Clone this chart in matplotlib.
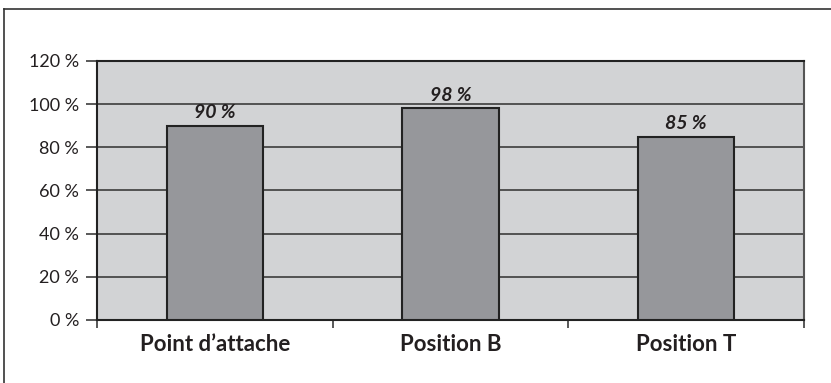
import matplotlib
matplotlib.use("Agg")
import matplotlib.pyplot as plt
from matplotlib.lines import Line2D
import numpy as np

categories = ["Point d\u2019attache", "Position B", "Position T"]
values = [90, 98, 85]
yticks = [0, 20, 40, 60, 80, 100, 120]
ytick_labels = ["0 %", "20 %", "40 %", "60 %", "80 %", "100 %", "120 %"]

plt.rcParams['font.family'] = ['Lato', 'DejaVu Sans']

W, H = 831, 383
fig = plt.figure(figsize=(W/100, H/100), dpi=100)
ax = fig.add_axes([97/W, 1-320/H, (804-97)/W, (320-61)/H])
ax.set_facecolor('#d2d3d5')

x = np.arange(len(categories))
ax.set_axisbelow(True)
ax.yaxis.grid(True, color='#3c3c3c', linewidth=1.2)
ax.bar(x, values, width=0.41, color='#96979b', edgecolor='#222222', linewidth=1.5, zorder=3)
for xi, v in zip(x, values):
    ax.text(xi, v + 2, f"{v} %", ha='center', va='bottom', fontsize=14,
            fontweight='bold', fontstyle='italic', color='#231f20')

ax.set_xlim(-0.5, len(categories) - 0.5)
ax.set_ylim(0, 120)
ax.set_yticks(yticks)
ax.set_yticklabels(ytick_labels, fontsize=13, color='#231f20')
ax.tick_params(axis='y', length=8, width=1.2, color='#3c3c3c', pad=5)

ax.set_xticks(x)
ax.set_xticklabels(categories, fontsize=16, fontweight='bold', color='#231f20')
ax.tick_params(axis='x', length=0, pad=10)
ax.set_xticks(np.arange(len(categories) + 1) - 0.5, minor=True)
ax.tick_params(axis='x', which='minor', length=6, width=1.2, color='#3c3c3c')

for side in ['top', 'left', 'bottom']:
    ax.spines[side].set_color('#222222')
    ax.spines[side].set_linewidth(1.5)
ax.spines['right'].set_color('#555555')
ax.spines['right'].set_linewidth(1.5)

# outer frame
fig.add_artist(Line2D([4/W, 4/W], [0, 1-9/H], color='#333333', linewidth=1.2, transform=fig.transFigure))
fig.add_artist(Line2D([4/W, 1], [1-9/H, 1-9/H], color='#333333', linewidth=1.2, transform=fig.transFigure))

fig.savefig('out.png', dpi=100)
